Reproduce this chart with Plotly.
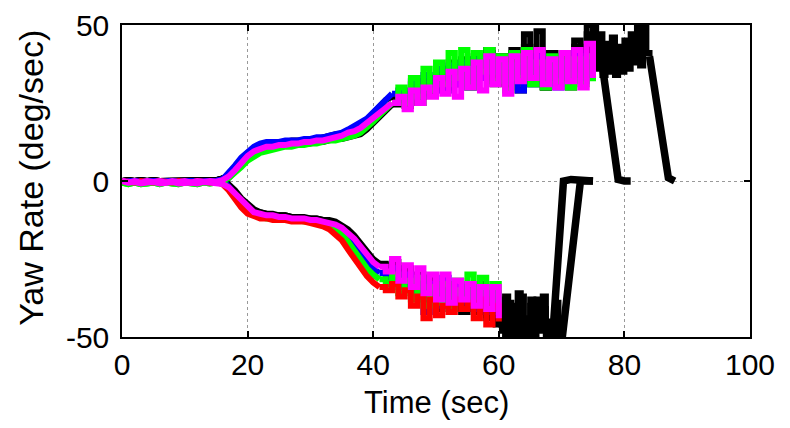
import plotly.graph_objects as go

# ---------------- data ----------------
# quiet segment t = 0..16
q_mag = [0, -0.5, 0, -0.5, 0, -0.3, 0, -0.5, 0, -0.4, 0, -0.5, 0, -0.3, 0, -0.2, 0.3]
q_blu = [0, 0, -0.3, 0, 0, -0.3, 0, 0, -0.3, 0, 0, -0.3, 0, 0, -0.3, 0, 0.5]
q_grn = [-0.5, -1, -0.5, -1, -0.8, -0.5, -1, -0.5, -0.8, -1, -0.5, -0.8, -1, -0.5, -0.8, -0.5, 0]
q_blk = [0, 0.3, 0, 0.3, 0, 0.3, 0, 0, 0.3, 0, 0.3, 0, 0.3, 0, 0, 0.3, 0.8]
q_red = [0, -0.3, -0.5, 0, -0.3, -0.5, 0, -0.3, -0.5, 0, -0.3, -0.5, 0, -0.3, -0.5, -0.3, -1]
q_mgn = [0, -0.5, -0.3, -0.8, -0.5, -0.3, -0.8, -0.5, -0.3, -0.8, -0.5, -0.5, -0.8, -0.3, -0.5, -0.8, -1]

# ---- positive turns: smooth part t = 0..43, noisy part t = 43..75 ----
t_pos_smooth = list(range(0, 44))
t_pos_noisy = list(range(43, 76))

mag_pos_s = q_mag + [1.5, 3.5, 6, 8, 9.5, 10.5, 11, 11, 11.5, 11.5, 12, 12, 12.5, 12.5, 13, 13, 13.5, 14,
                     14.5, 15.5, 16, 17, 18.5, 20, 22, 23.5, 25]
mag_pos_n = [25, 27, 23, 29, 25, 30, 27, 33, 28, 35, 27, 36, 30, 38, 29, 40, 31, 39, 28, 40, 32,
             41, 33, 42, 31, 39, 30, 41, 32, 42, 30, 44, 33]
blue_pos_s = q_blu + [2.5, 5, 7.5, 9.5, 11, 12, 12.5, 12.5, 12.5, 13, 13, 13, 13.5, 13.5, 14, 14, 14.5, 15,
                      15.5, 16.5, 17.5, 18.5, 20, 22, 24, 26, 28]
blue_pos_n = [28, 29, 26, 32, 27, 34, 30, 36, 29, 37, 31, 38, 30, 39, 33, 40, 35, 38, 32, 37, 29,
              38, 31, 40, 33, 39, 30, 38, 34, 41, 32, 40, 33]
green_pos_s = q_grn + [1, 2.5, 4.5, 6.5, 8, 9, 9.5, 10, 10.5, 11, 11, 11.5, 11.5, 12, 12, 12.5, 13, 13,
                       13.5, 14, 14.5, 15.5, 17, 19, 21, 23, 25]
green_pos_n = [25, 30, 25, 33, 27, 36, 29, 38, 31, 41, 33, 42, 30, 41, 35, 42, 32, 40, 29, 41, 33,
               42, 31, 38, 30, 40, 32, 41, 30, 39, 31, 40, 32]

t_blkA_pos_noisy = list(range(43, 77))
t_blkA_pos_tail = [76, 77, 78, 79, 80, 81]
blackA_pos_s = q_blk + [2, 4.5, 7, 9, 10.5, 11.5, 12, 12.5, 12.5, 12.5, 13, 13, 13, 13.5, 13.5, 14, 14.5,
                        15, 15, 15.5, 16, 17.5, 19.5, 21.5, 24, 26, 27]
blackA_pos_n = [27, 28, 26, 31, 27, 33, 29, 36, 30, 38, 31, 39, 33, 40, 35, 42, 31, 40, 34, 41, 29,
                43, 32, 48, 30, 41, 33, 40, 31, 45, 34, 50, 38, 44]
blackA_pos_t = [44, 29, 14, 0.5, 0, 0]

t_blkB_pos_noisy = list(range(43, 75)) + [74.5, 75, 75.5, 76, 76.5, 77, 77.5, 78, 78.5, 79, 79.5,
                                          80, 80.5, 81, 81.5, 82, 82.5, 83, 83.5, 84]
t_blkB_pos_tail = [84, 85, 86, 87, 88]
blackB_pos_s = q_blk + [1, 3, 5.5, 7.5, 9, 10, 10.5, 11, 11, 11.5, 11.5, 12, 12, 12, 12.5, 12.5, 13, 13.5,
                        13.5, 14, 14.5, 15, 16.5, 18.5, 21, 23, 24.5]
blackB_pos_n = [24.5, 26, 24, 29, 25, 32, 28, 34, 29, 36, 31, 37, 30, 39, 33, 41, 32, 39, 30, 42,
                35, 47, 31, 40, 30, 38, 33, 41, 30, 43, 36, 47,
                37, 49, 36, 47, 34, 44, 35, 46, 34, 43, 35, 45, 36, 47, 38, 50, 37, 50, 41, 40]
blackB_pos_t = [40, 27, 14, 1, 0]

# ---- negative turns: smooth part t = 0..41, noisy part t = 41..60 ----
t_neg_smooth = list(range(0, 42))
t_neg_noisy = list(range(41, 61))

mag_neg_s = q_mgn + [-2, -4, -6.5, -8.5, -10, -10.5, -11, -11, -11.5, -11.5, -12, -12, -12, -12.5, -12.5,
                     -13, -13.5, -14, -15, -16.5, -18.5, -21, -23.5, -26, -27.5]
mag_neg_n = [-27.5, -29, -25, -32, -27, -34, -28, -36, -30, -38, -30, -39, -32, -38, -33, -40, -34, -41, -34, -44]
red_neg_s = q_red + [-3, -6, -8.5, -10.5, -11.5, -12, -12, -12.5, -12.5, -12.5, -13, -13, -13, -13.5, -14,
                     -14.5, -15.5, -17, -19, -22, -25, -28, -30.5, -32.5, -34]
red_neg_n = [-34, -35, -33, -37, -35, -40, -37, -44, -38, -43, -40, -42, -38, -41, -39, -44, -38, -46, -40, -45]
green_neg_s = q_grn + [-2.5, -5, -7.5, -9.5, -11, -11.5, -12, -12, -12, -12.5, -12.5, -12.5, -13, -13,
                       -13.5, -14, -14.5, -15.5, -17, -19.5, -22.5, -25.5, -28, -30, -31.5]
green_neg_n = [-31.5, -33, -30, -36, -32, -38, -31, -40, -34, -39, -33, -41, -35, -38, -30, -40, -31, -41, -33, -42]
blue_neg_s = q_blu + [-2, -4.5, -7, -9, -10.5, -11, -11.5, -11.5, -12, -12, -12.5, -12.5, -12.5, -13, -13,
                      -13.5, -14, -14.5, -16, -18, -20.5, -23, -25.5, -28, -29.5]
blue_neg_n = [-29.5, -31, -28, -34, -30, -37, -31, -42, -33, -40, -31, -41, -34, -39, -33, -41, -35, -42, -36, -43]

t_blkA_neg_noisy = list(range(41, 60)) + [59.5, 60, 60.5, 61, 61.5, 62, 62.5, 63, 63.5, 64, 64.5,
                                          65, 65.5, 66, 66.5, 67, 67.5, 68]
t_blkA_neg_tail = [68, 68.5, 70.3, 71.5, 75]
blackA_neg_s = q_blk + [-1.5, -3.5, -6, -8, -9.5, -10, -10.5, -10.5, -11, -11, -11.5, -11.5, -11.5, -12, -12,
                        -12.5, -13, -13.5, -14.5, -16, -18, -20.5, -23, -25.5, -27]
blackA_neg_n = [-27, -28, -26, -31, -28, -34, -30, -38, -31, -40, -33, -39, -32, -42, -34, -40, -33, -43, -36,
                -46, -38, -44, -50, -39, -49, -40, -49, -37, -45, -52, -40, -47, -38, -48, -41, -52, -48]
blackA_neg_t = [-48, -52, 0, 0.5, 0]

t_blkB_neg_noisy = list(range(41, 60)) + [59.5, 60, 60.5, 61, 61.5, 62, 62.5, 63, 63.5, 64, 64.5,
                                          65, 65.5, 66, 66.5, 67, 67.5, 68, 68.5, 69, 69.5, 70]
t_blkB_neg_tail = [70, 71, 72, 73, 75]
blackB_neg_s = q_blk + [-1, -3, -5.5, -7.5, -9, -10, -10.5, -11, -11, -11, -11.5, -11.5, -12, -12, -12,
                        -12.5, -12.5, -13, -14, -15.5, -17.5, -20, -22.5, -25, -26.5]
blackB_neg_n = [-26.5, -29, -27, -33, -29, -35, -31, -37, -33, -41, -35, -40, -34, -41, -36, -42, -37, -44, -38,
                -45, -40, -48, -37, -51, -42, -47, -36, -50, -44, -52, -38, -49, -42, -47, -37, -52, -45,
                -50, -39, -52, -52]
blackB_neg_t = [-52, -34, -17, 0, 0]

x_ticks = [0, 20, 40, 60, 80, 100]
y_ticks = [-50, 0, 50]

BLACK, BLUE, GREEN, RED, MAGENTA = "#000000", "#0000FF", "#00FF00", "#FF0000", "#FF00FF"

# (times, values, colour, line shape, width)
series = [
    (t_pos_smooth, blackA_pos_s, BLACK, "linear", 6),
    (t_blkA_pos_noisy, blackA_pos_n, BLACK, "hv", 6),
    (t_blkA_pos_tail, blackA_pos_t, BLACK, "linear", 7.5),
    (t_pos_smooth, blackB_pos_s, BLACK, "linear", 6),
    (t_blkB_pos_noisy, blackB_pos_n, BLACK, "hv", 6),
    (t_blkB_pos_tail, blackB_pos_t, BLACK, "linear", 7.5),
    (t_neg_smooth, blackA_neg_s, BLACK, "linear", 6),
    (t_blkA_neg_noisy, blackA_neg_n, BLACK, "hv", 6),
    (t_blkA_neg_tail, blackA_neg_t, BLACK, "linear", 7.5),
    (t_neg_smooth, blackB_neg_s, BLACK, "linear", 6),
    (t_blkB_neg_noisy, blackB_neg_n, BLACK, "hv", 6),
    (t_blkB_neg_tail, blackB_neg_t, BLACK, "linear", 7.5),
    (t_pos_smooth, blue_pos_s, BLUE, "linear", 6),
    (t_pos_noisy, blue_pos_n, BLUE, "hv", 6),
    (t_neg_smooth, blue_neg_s, BLUE, "linear", 6),
    (t_neg_noisy, blue_neg_n, BLUE, "hv", 6),
    (t_pos_smooth, green_pos_s, GREEN, "linear", 6),
    (t_pos_noisy, green_pos_n, GREEN, "hv", 6),
    (t_neg_smooth, green_neg_s, GREEN, "linear", 6),
    (t_neg_noisy, green_neg_n, GREEN, "hv", 6),
    (t_neg_smooth, red_neg_s, RED, "linear", 6),
    (t_neg_noisy, red_neg_n, RED, "hv", 6),
    (t_pos_smooth, mag_pos_s, MAGENTA, "linear", 6),
    (t_pos_noisy, mag_pos_n, MAGENTA, "hv", 6),
    (t_neg_smooth, mag_neg_s, MAGENTA, "linear", 6),
    (t_neg_noisy, mag_neg_n, MAGENTA, "hv", 6),
]
for tt, yy, c, s, w in series:
    assert len(tt) == len(yy), (len(tt), len(yy), c)

fig = go.Figure()
for tt, yy, c, s, w in series:
    fig.add_trace(go.Scatter(x=tt, y=yy, mode="lines", line=dict(color=c, width=w, shape=s),
                             showlegend=False, hoverinfo="skip"))

FONT = "Liberation Sans, Arial, Helvetica, sans-serif"
tick_font = dict(family=FONT, size=30, color="black")
axis_common = dict(
    showline=True, linecolor="black", linewidth=1.5, mirror="ticks",
    ticks="inside", ticklen=6, tickwidth=1.5, tickcolor="black",
    showgrid=True, gridcolor="#999999", gridwidth=1, griddash="dot",
    zeroline=False, tickfont=tick_font, automargin=False,
)
# the page body adds an 8 px offset, so the figure is 8 px smaller and margins shifted
fig.update_layout(
    width=782, height=420,
    margin=dict(l=114, r=40, t=17, b=91),
    paper_bgcolor="white", plot_bgcolor="white",
    xaxis=dict(range=[0, 100], tickvals=x_ticks, ticktext=[str(v) for v in x_ticks],
               ticklabelstandoff=0, **axis_common),
    yaxis=dict(range=[-50, 50], tickvals=y_ticks, ticktext=[str(v) for v in y_ticks],
               ticklabelstandoff=5, **axis_common),
    annotations=[
        dict(text="Time (sec)", xref="paper", yref="paper", x=0.5008, y=-0.2115,
             xanchor="center", yanchor="middle", showarrow=False,
             font=dict(family=FONT, size=31, color="black")),
        dict(text="Yaw Rate (deg/sec)", xref="paper", yref="paper", x=-0.145, y=0.51,
             xanchor="center", yanchor="middle", showarrow=False, textangle=-90,
             font=dict(family=FONT, size=34, color="black")),
    ],
)
fig.write_html("out.html")
